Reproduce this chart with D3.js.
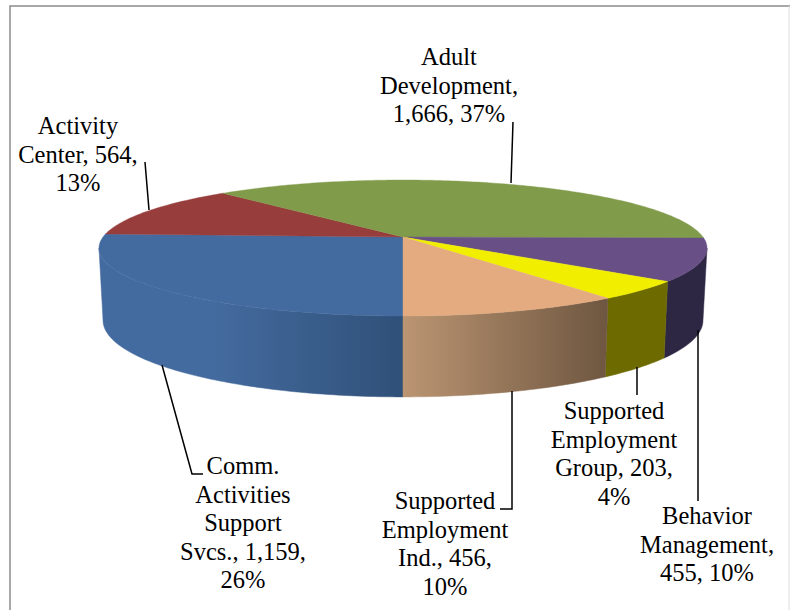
<!DOCTYPE html>
<html>
<head>
<meta charset="utf-8">
<script src="https://cdn.jsdelivr.net/npm/d3@7"></script>
<style>
  html, body { margin: 0; padding: 0; background: #fff; overflow: hidden; }
  svg { display: block; }
  text { font-family: "Liberation Serif", serif; font-size: 24.5px; fill: #000; }
</style>
</head>
<body>
<div id="chart"></div>
<script>
// values as printed on the data labels
var categories = ["Comm. Activities Support Svcs.", "Activity Center", "Adult Development",
                  "Behavior Management", "Supported Employment Group", "Supported Employment Ind."];
var values = [1159, 564, 1666, 455, 203, 456];

var topColors = ["#446b9f", "#973d3c", "#809b4a", "#684f85", "#f1ee00", "#e3ab7f"];
var wallLeft  = ["#446b9f", "#973d3c", "#809b4a", "#2e2744", "#6d6a00", "#bb9572"];
var wallRight = ["#2f5078", "#973d3c", "#809b4a", "#2e2744", "#6d6a00", "#6e5640"];

// label lines, centre x and first baseline, leader polyline
var labelLines = [
  ["Comm.", "Activities", "Support", "Svcs., 1,159,", "26%"],
  ["Activity", "Center, 564,", "13%"],
  ["Adult", "Development,", "1,666, 37%"],
  ["Behavior", "Management,", "455, 10%"],
  ["Supported", "Employment", "Group, 203,", "4%"],
  ["Supported", "Employment", "Ind., 456,", "10%"]
];
var labelX = [243, 78, 449, 707, 614, 445];
var labelY = [474, 134, 65, 524, 419, 509];
var leaders = [
  [[162, 365], [192, 474], [203, 474]],
  [[145, 162], [149, 210]],
  [[513, 122], [511, 183]],
  [[698, 330], [698, 501]],
  [[637, 367], [637, 395]],
  [[512, 391], [512, 509], [500, 509]]
];

var width = 790, height = 610;
var cx = 403, cy = 237;
var persp = 0.162;   // perspective of the tilted disc

var svg = d3.select("#chart").append("svg")
  .attr("width", width)
  .attr("height", height);

// frame, open at the bottom
svg.append("path")
  .attr("d", "M10,610V6H790")
  .attr("fill", "none")
  .attr("stroke", "#8c8c8c")
  .attr("stroke-width", 1.5);
svg.append("path")
  .attr("d", "M789,6V610")
  .attr("fill", "none")
  .attr("stroke", "#ddd")
  .attr("stroke-width", 1);

// disc coords (-1..1) to screen, top and bottom face
var xTop = d3.scaleLinear().domain([-1, 1]).range([-300, 300]);
var yTop = d3.scaleLinear().domain([-1, 1]).range([-66.2, 66.2]);
var xBottom = d3.scaleLinear().domain([-1, 1]).range([-296, 296]);
var yBottom = d3.scaleLinear().domain([-1, 1]).range([-74.5, 74.5]);
var drop = 71;

function projectTop(a) {
  var u = Math.sin(a), v = -Math.cos(a), w = 1 - persp * v;
  return [cx + xTop(u) / w, cy + yTop(v) / w];
}
function projectBottom(a) {
  var u = Math.sin(a), v = -Math.cos(a), w = 1 - persp * v;
  return [cx + xBottom(u) / w, cy + drop + yBottom(v) / w];
}

var pie = d3.pie().sort(null).value(function(d) { return d; })
  .startAngle(Math.PI).endAngle(3 * Math.PI);
var arcs = pie(values);
var line = d3.line();

function rim(a0, a1, project) {
  var n = Math.max(2, Math.ceil((a1 - a0) * 60));
  return d3.range(n + 1).map(function(i) {
    return project(a0 + (a1 - a0) * i / n);
  });
}

var defs = svg.append("defs");

// side wall, between the two points where the rim is widest
var tangent = Math.asin(persp);
arcs.forEach(function(d, i) {
  var segs = [[d.startAngle, d.endAngle], [d.startAngle - 2 * Math.PI, d.endAngle - 2 * Math.PI]];
  segs.forEach(function(s) {
    var a0 = Math.max(s[0], Math.PI / 2 + tangent), a1 = Math.min(s[1], 3 * Math.PI / 2 - tangent);
    if (a1 <= a0) return;
    var top = rim(a0, a1, projectTop);
    var bottom = rim(a0, a1, projectBottom).reverse();
    var xExt = d3.extent(top.concat(bottom), function(p) { return p[0]; });
    var grad = defs.append("linearGradient")
      .attr("id", "wall" + i)
      .attr("gradientUnits", "userSpaceOnUse")
      .attr("x1", xExt[0]).attr("x2", xExt[1])
      .attr("y1", 0).attr("y2", 0);
    // blue keeps the top colour for the first stretch, then darkens
    grad.append("stop").attr("offset", i === 0 ? "0.38" : "0").attr("stop-color", wallLeft[i]);
    grad.append("stop").attr("offset", "1").attr("stop-color", wallRight[i]);
    svg.append("path")
      .attr("d", line(top.concat(bottom)) + "Z")
      .attr("fill", "url(#wall" + i + ")")
      .attr("stroke", "url(#wall" + i + ")")
      .attr("stroke-width", 0.5);
  });
});

// top face
svg.selectAll("path.slice")
  .data(arcs)
  .enter().append("path")
  .attr("class", "slice")
  .attr("d", function(d) {
    return line([[cx, cy]].concat(rim(d.startAngle, d.endAngle, projectTop))) + "Z";
  })
  .attr("fill", function(d, i) { return topColors[i]; })
  .attr("stroke", function(d, i) { return topColors[i]; })
  .attr("stroke-width", 0.4);

// leaders
svg.selectAll("path.leader")
  .data(leaders)
  .enter().append("path")
  .attr("class", "leader")
  .attr("d", function(d) { return line(d); })
  .attr("fill", "none")
  .attr("stroke", "#000")
  .attr("stroke-width", 1.5);

// labels
var lineH = 28.6;
labelLines.forEach(function(lines, i) {
  var t = svg.append("text").attr("text-anchor", "middle");
  lines.forEach(function(s, j) {
    t.append("tspan")
      .attr("x", labelX[i])
      .attr("y", labelY[i] + j * lineH)
      .text(s);
  });
});
</script>
</body>
</html>
